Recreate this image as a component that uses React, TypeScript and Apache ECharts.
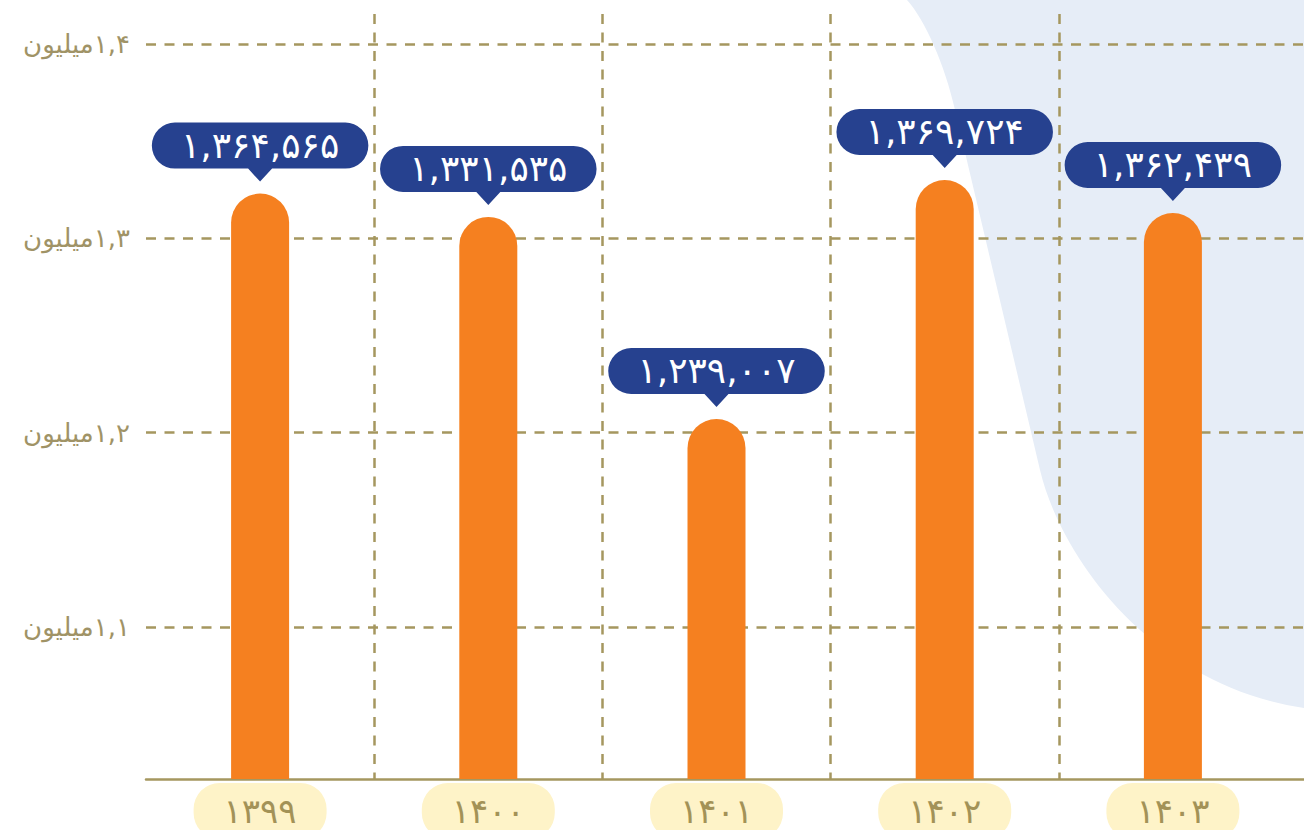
import React, { useEffect, useRef } from 'react';
import * as echarts from 'echarts';

// ---- data ----
const categories = ['۱۳۹۹', '۱۴۰۰', '۱۴۰۱', '۱۴۰۲', '۱۴۰۳'];
// values printed in the bubbles
const labelValues = [1364565, 1331535, 1239007, 1369724, 1362439];
// bar heights as drawn against the printed axis
const barHeights = [1323000, 1311000, 1207000, 1330000, 1313000];
// y-axis tick values and their printed labels
const yTicks = [1100000, 1200000, 1300000, 1400000];
const yTickLabels = ['۱,۱میلیون', '۱,۲میلیون', '۱,۳میلیون', '۱,۴میلیون'];

const Y_MIN = 1021800;
const Y_MAX = 1415400;

const FA_DIGITS = '۰۱۲۳۴۵۶۷۸۹';
const toFa = (n: number) =>
  n.toLocaleString('en-US').replace(/\d/g, (d) => FA_DIGITS[Number(d)]);

const FONT = '"DejaVu Sans", sans-serif';
const RLM = '\u200F';
const GRID_COLOR = '#a5975f';
const LABEL_COLOR = '#a09366';

const BLOB_PATH =
  'M907,0 C925,20 945,65 955,110 L1040,470 C1060,555 1150,685 1304,708 L1304,0 Z';
const BUBBLE_PATH =
  'path://M23,0 H193 A23,23 0 0 1 193,46 H120 L108,59 L96,46 H23 A23,23 0 0 1 23,0 Z';

let registered = false;
function ensureShapes() {
  if (registered) return;
  echarts.graphic.registerShape('blob', (echarts.graphic as any).extendPath(BLOB_PATH, {}));
  registered = true;
}

export default function App() {
  const ref = useRef<HTMLDivElement>(null);

  useEffect(() => {
    if (!ref.current) return;
    ensureShapes();
    const chart = echarts.init(ref.current, undefined, { renderer: 'svg' });
    const dash = { color: GRID_COLOR, width: 2.5, type: [10, 8.5] as any };

    chart.setOption({
      animation: false,
      backgroundColor: '#ffffff',
      graphic: [
        {
          type: 'blob',
          x: 0,
          y: 0,
          z: -10,
          silent: true,
          style: { fill: '#e6edf7' },
        } as any,
      ],
      grid: [
        { left: 146, right: 0, top: 14, bottom: 51, containLabel: false, outerBoundsMode: 'none' } as any,
        { left: 146, right: 17, top: 14, bottom: 51, containLabel: false, outerBoundsMode: 'none' } as any,
      ],
      xAxis: [
        {
          gridIndex: 0,
          type: 'value',
          min: 0,
          max: 1,
          axisLine: { show: true, onZero: false, lineStyle: { color: GRID_COLOR, width: 2.5 } },
          axisTick: { show: false },
          axisLabel: { show: false },
          splitLine: { show: false },
        },
        {
          gridIndex: 1,
          type: 'category',
          data: categories,
          axisLine: { show: false },
          axisTick: { show: false },
          axisLabel: {
            interval: 0,
            color: '#a39257',
            fontSize: 34,
            fontFamily: FONT,
            margin: 4,
            backgroundColor: '#fef3c8',
            borderRadius: 26,
            width: 133,
            height: 56,
            lineHeight: 56,
            align: 'center',
            verticalAlign: 'top',
          },
          splitLine: {
            show: true,
            interval: 0,
            showMinLine: false,
            showMaxLine: false,
            lineStyle: dash,
          },
        },
      ],
      yAxis: [
        {
          gridIndex: 0,
          type: 'value',
          min: Y_MIN,
          max: Y_MAX,
          axisLine: { show: false },
          axisTick: { show: false },
          axisLabel: {
            showMinLabel: false,
            showMaxLabel: false,
            color: LABEL_COLOR,
            fontSize: 26,
            fontFamily: FONT,
            margin: 16,
            padding: [0, 0, 10, 0],
            formatter: (v: number) => {
              const i = yTicks.indexOf(Math.round(v));
              return i >= 0 ? RLM + yTickLabels[i] : '';
            },
          },
          splitLine: {
            show: true,
            showMinLine: false,
            showMaxLine: false,
            lineStyle: dash,
          },
        },
        { gridIndex: 1, type: 'value', min: Y_MIN, max: Y_MAX, show: false },
      ],
      series: [
        {
          type: 'bar',
          xAxisIndex: 1,
          yAxisIndex: 1,
          data: barHeights,
          barWidth: 58,
          itemStyle: { color: '#f58020', borderRadius: [29, 29, 0, 0] },
          z: 2,
        },
        {
          type: 'scatter',
          xAxisIndex: 1,
          yAxisIndex: 1,
          data: barHeights,
          symbol: BUBBLE_PATH,
          symbolSize: [216, 59],
          symbolOffset: [0, -41.5],
          itemStyle: { color: '#26418f', opacity: 1 },
          label: {
            show: true,
            position: 'inside',
            offset: [0, -7],
            color: '#ffffff',
            fontSize: 36,
            fontFamily: FONT,
            formatter: (p: any) => toFa(labelValues[p.dataIndex]),
          },
          z: 3,
        },
      ],
    });

    return () => chart.dispose();
  }, []);

  return (
    <div
      ref={ref}
      style={{ position: 'absolute', left: 0, top: 0, width: 1304, height: 830 }}
    />
  );
}
